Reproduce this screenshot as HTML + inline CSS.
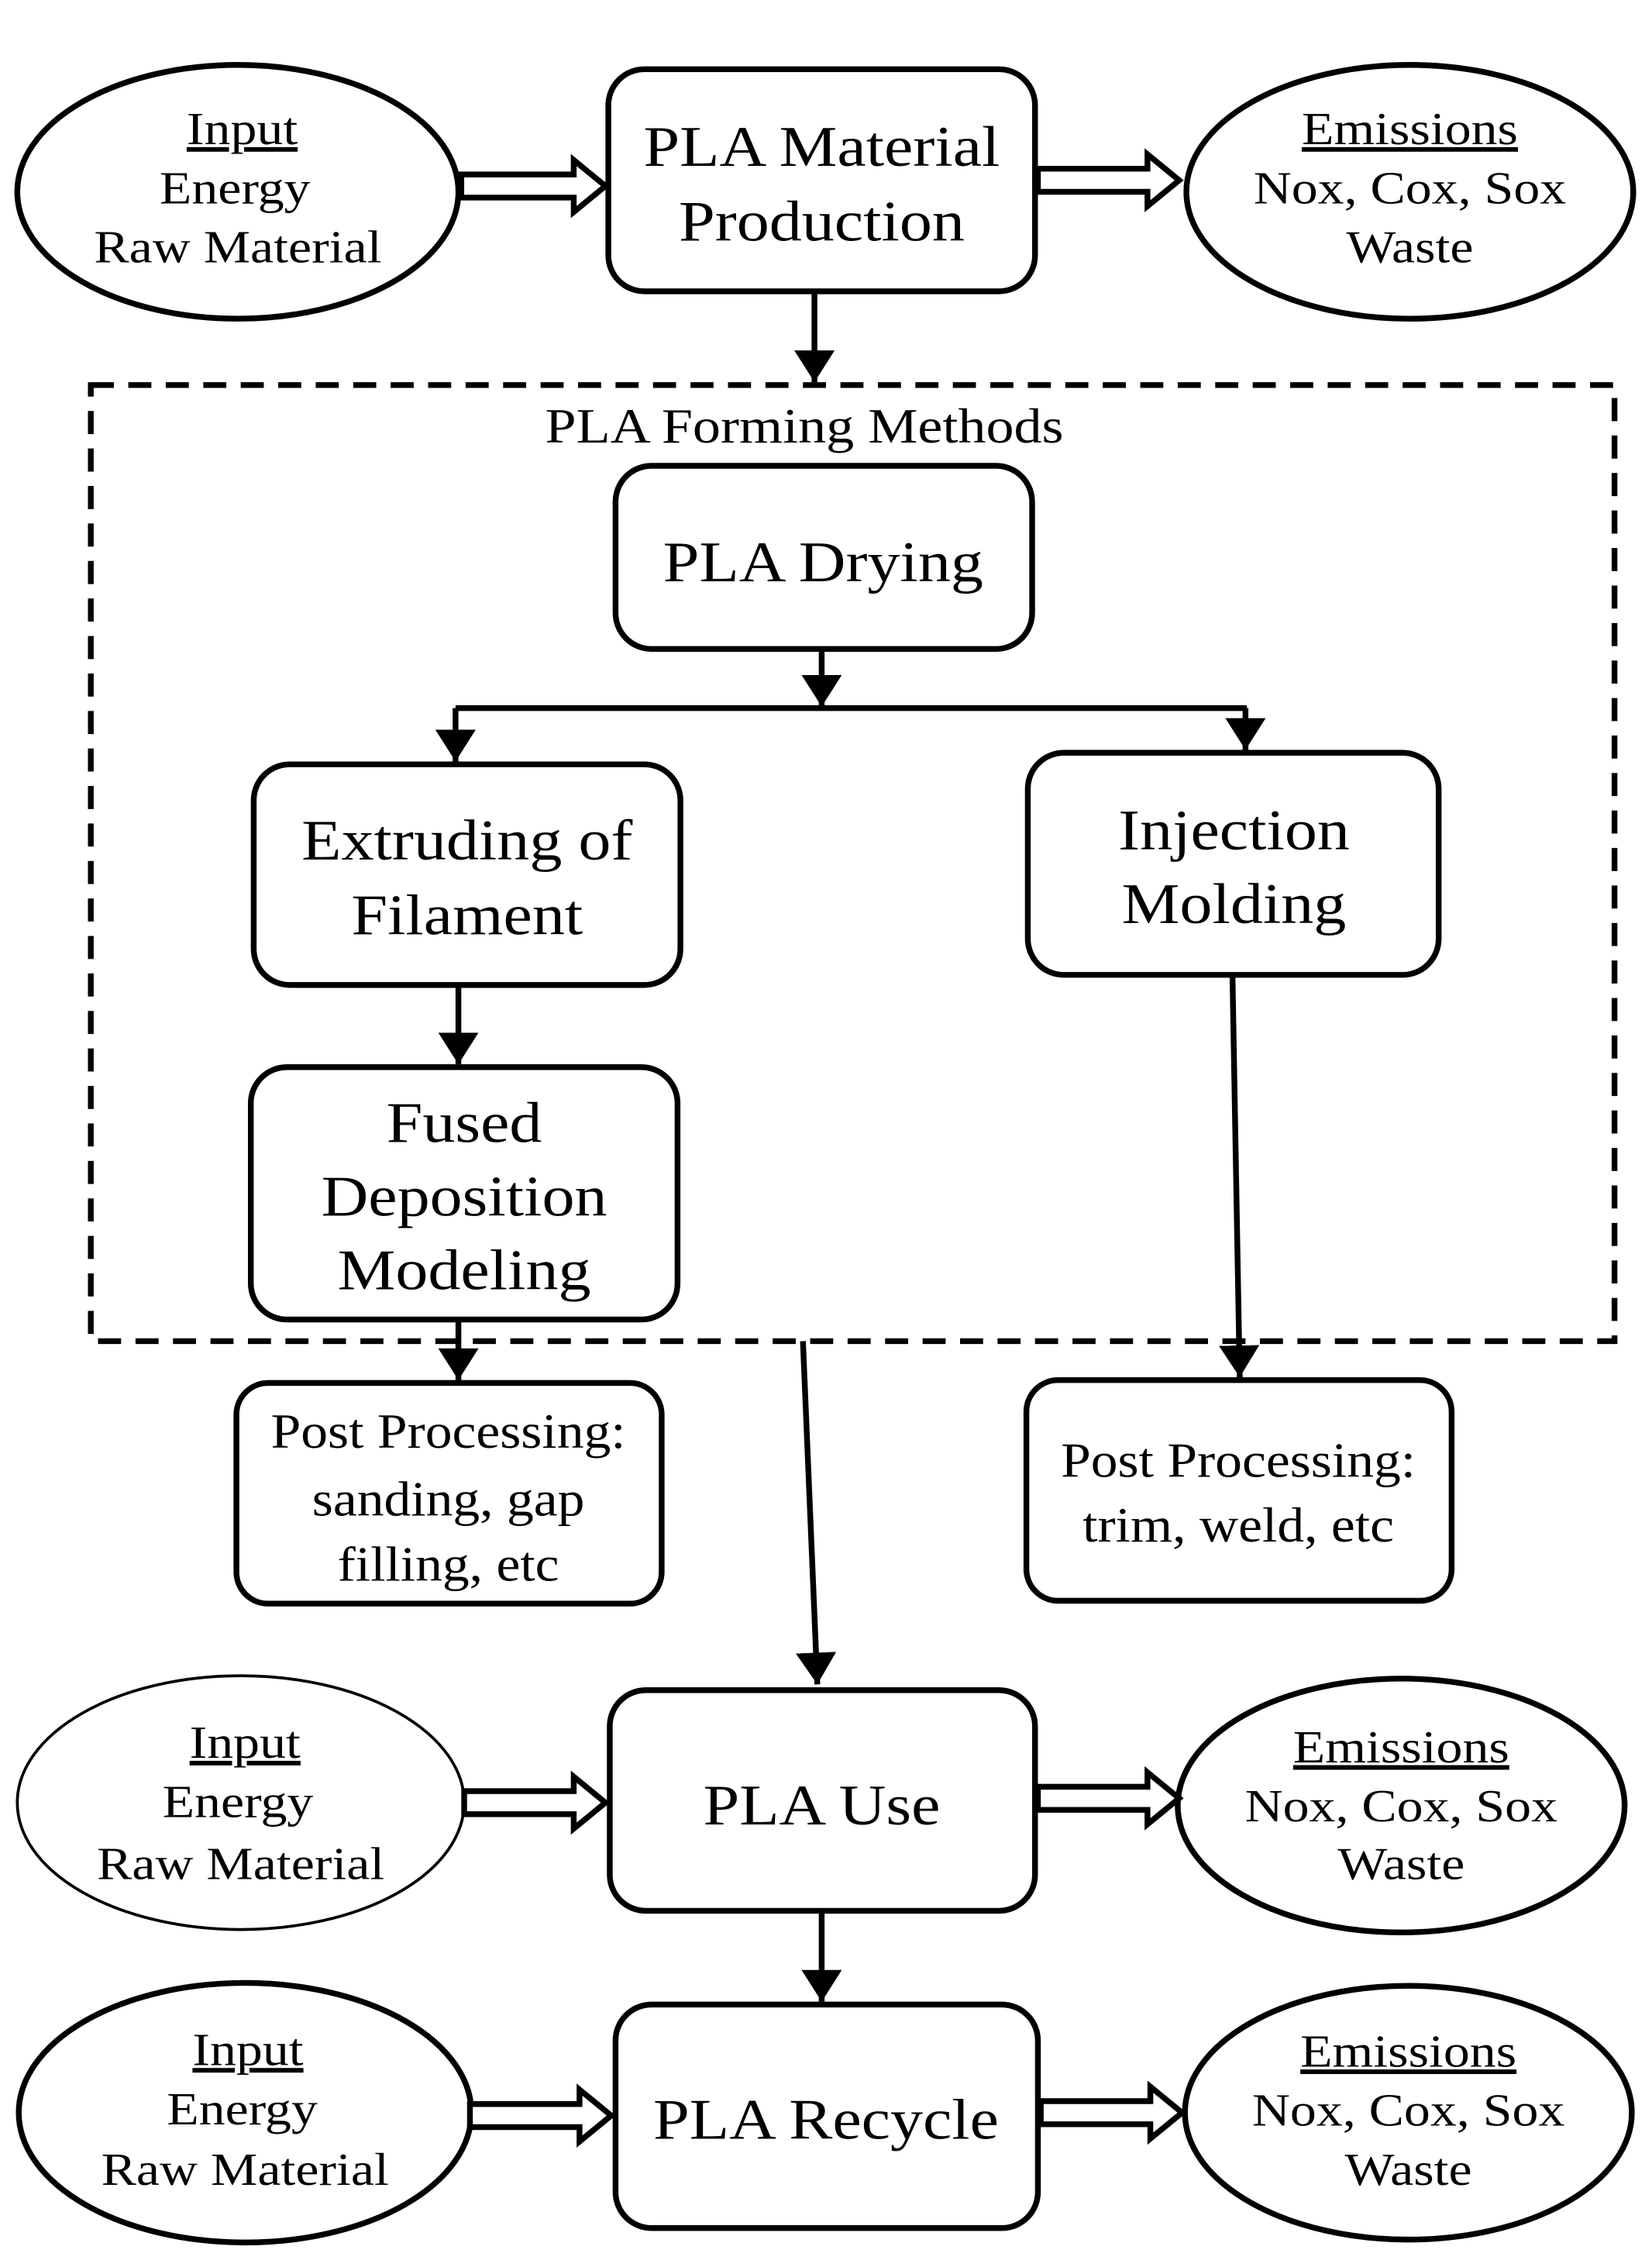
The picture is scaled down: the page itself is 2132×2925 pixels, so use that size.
<!DOCTYPE html>
<html><head><meta charset="utf-8"><style>html,body{margin:0;padding:0;background:#fff}svg{display:block}</style></head>
<body>
<svg width="2132" height="2925" viewBox="0 0 1146 1572" preserveAspectRatio="none" xmlns="http://www.w3.org/2000/svg" font-family="'Liberation Serif', serif" text-anchor="middle">
<defs>
<marker id="b" viewBox="0 0 20 20" markerWidth="22" markerHeight="28" refX="20" refY="10" orient="auto" markerUnits="userSpaceOnUse" preserveAspectRatio="none"><path d="M0,0 L20,10 L0,20z" fill="#000"/></marker>
</defs>
<g fill="none" stroke="#000" stroke-width="4">
<ellipse cx="165" cy="133" rx="153" ry="88"/>
<ellipse cx="978" cy="133" rx="155" ry="88"/>
<ellipse cx="167" cy="1250" rx="155" ry="88" stroke-width="2"/>
<ellipse cx="972" cy="1252" rx="155" ry="88"/>
<ellipse cx="170" cy="1465" rx="157" ry="90"/>
<ellipse cx="977" cy="1465" rx="155" ry="88"/>
<rect x="422" y="48" width="296" height="154" rx="25"/>
<rect x="427" y="323" width="289" height="127" rx="25"/>
<rect x="176" y="530" width="296" height="153" rx="25"/>
<rect x="713" y="522" width="285" height="154" rx="25"/>
<rect x="174" y="740" width="296" height="175" rx="25"/>
<rect x="164" y="959" width="295" height="153" rx="22"/>
<rect x="712" y="957" width="295" height="153" rx="22"/>
<rect x="423" y="1172" width="295" height="153" rx="25"/>
<rect x="427" y="1390" width="293" height="155" rx="25"/>
<rect x="63" y="267" width="1057" height="663" stroke-dasharray="16,10"/>
</g>
<rect x="350" y="282" width="420" height="26" fill="#fff"/>
<g stroke="#000" stroke-width="4" fill="none">
<line x1="565" y1="202" x2="565" y2="265" marker-end="url(#b)"/>
<line x1="570" y1="450" x2="570" y2="490" marker-end="url(#b)"/>
<line x1="316" y1="491" x2="865" y2="491"/>
<line x1="316" y1="491" x2="316" y2="528" marker-end="url(#b)"/>
<line x1="864" y1="491" x2="864" y2="520" marker-end="url(#b)"/>
<line x1="318" y1="683" x2="318" y2="738" marker-end="url(#b)"/>
<line x1="318" y1="915" x2="318" y2="957" marker-end="url(#b)"/>
<line x1="855" y1="678" x2="860" y2="955" marker-end="url(#b)"/>
<line x1="557" y1="930" x2="567" y2="1168" marker-end="url(#b)"/>
<line x1="570" y1="1325" x2="570" y2="1388" marker-end="url(#b)"/>
</g>
<g fill="#fff" stroke="#000" stroke-width="4">
<path d="M320,121 L398,121 L398,111 L420,129 L398,147 L398,137 L320,137 Z"/>
<path d="M720,117 L796,117 L796,107 L818,125 L796,143 L796,133 L720,133 Z"/>
<path d="M322,1242 L398,1242 L398,1232 L420,1250 L398,1268 L398,1258 L322,1258 Z"/>
<path d="M720,1239 L796,1239 L796,1229 L818,1247 L796,1265 L796,1255 L720,1255 Z"/>
<path d="M326,1459 L402,1459 L402,1449 L424,1467 L402,1485 L402,1475 L326,1475 Z"/>
<path d="M722,1457 L798,1457 L798,1447 L820,1465 L798,1483 L798,1473 L722,1473 Z"/>
</g>
<g font-size="32" fill="#000">
<text transform="translate(168,100) scale(1.14,1)" text-decoration="underline">Input</text>
<text transform="translate(163,141) scale(1.14,1)">Energy</text>
<text transform="translate(165,182) scale(1.14,1)">Raw Material</text>
<text transform="translate(978,100) scale(1.14,1)" text-decoration="underline">Emissions</text>
<text transform="translate(978,141) scale(1.14,1)">Nox, Cox, Sox</text>
<text transform="translate(978,182) scale(1.14,1)">Waste</text>
<text transform="translate(170,1219) scale(1.14,1)" text-decoration="underline">Input</text>
<text transform="translate(165,1260) scale(1.14,1)">Energy</text>
<text transform="translate(167,1303) scale(1.14,1)">Raw Material</text>
<text transform="translate(972,1222) scale(1.14,1)" text-decoration="underline">Emissions</text>
<text transform="translate(972,1263) scale(1.14,1)">Nox, Cox, Sox</text>
<text transform="translate(972,1303) scale(1.14,1)">Waste</text>
<text transform="translate(172,1432) scale(1.14,1)" text-decoration="underline">Input</text>
<text transform="translate(168,1473) scale(1.14,1)">Energy</text>
<text transform="translate(170,1515) scale(1.14,1)">Raw Material</text>
<text transform="translate(977,1433) scale(1.14,1)" text-decoration="underline">Emissions</text>
<text transform="translate(977,1474) scale(1.14,1)">Nox, Cox, Sox</text>
<text transform="translate(977,1515) scale(1.14,1)">Waste</text>
<g font-size="34">
<text transform="translate(558,307) scale(1.14,1)">PLA Forming Methods</text>
<text transform="translate(311,1004) scale(1.1,1)">Post Processing:</text>
<text transform="translate(311,1051) scale(1.1,1)">sanding, gap</text>
<text transform="translate(311,1096) scale(1.1,1)">filling, etc</text>
<text transform="translate(859,1024) scale(1.1,1)">Post Processing:</text>
<text transform="translate(859,1069) scale(1.1,1)">trim, weld, etc</text>
</g>
</g>
<g font-size="40" fill="#000">
<text transform="translate(570,115) scale(1.13,1)">PLA Material</text>
<text transform="translate(570,167) scale(1.13,1)">Production</text>
<text transform="translate(571,403) scale(1.13,1)">PLA Drying</text>
<text transform="translate(324,596) scale(1.13,1)">Extruding of</text>
<text transform="translate(324,648) scale(1.13,1)">Filament</text>
<text transform="translate(856,589) scale(1.13,1)">Injection</text>
<text transform="translate(856,640) scale(1.13,1)">Molding</text>
<text transform="translate(322,792) scale(1.13,1)">Fused</text>
<text transform="translate(322,843) scale(1.13,1)">Deposition</text>
<text transform="translate(322,894) scale(1.13,1)">Modeling</text>
<text transform="translate(570,1265) scale(1.13,1)">PLA Use</text>
<text transform="translate(573,1483) scale(1.13,1)">PLA Recycle</text>
</g>
</svg>
</body></html>
